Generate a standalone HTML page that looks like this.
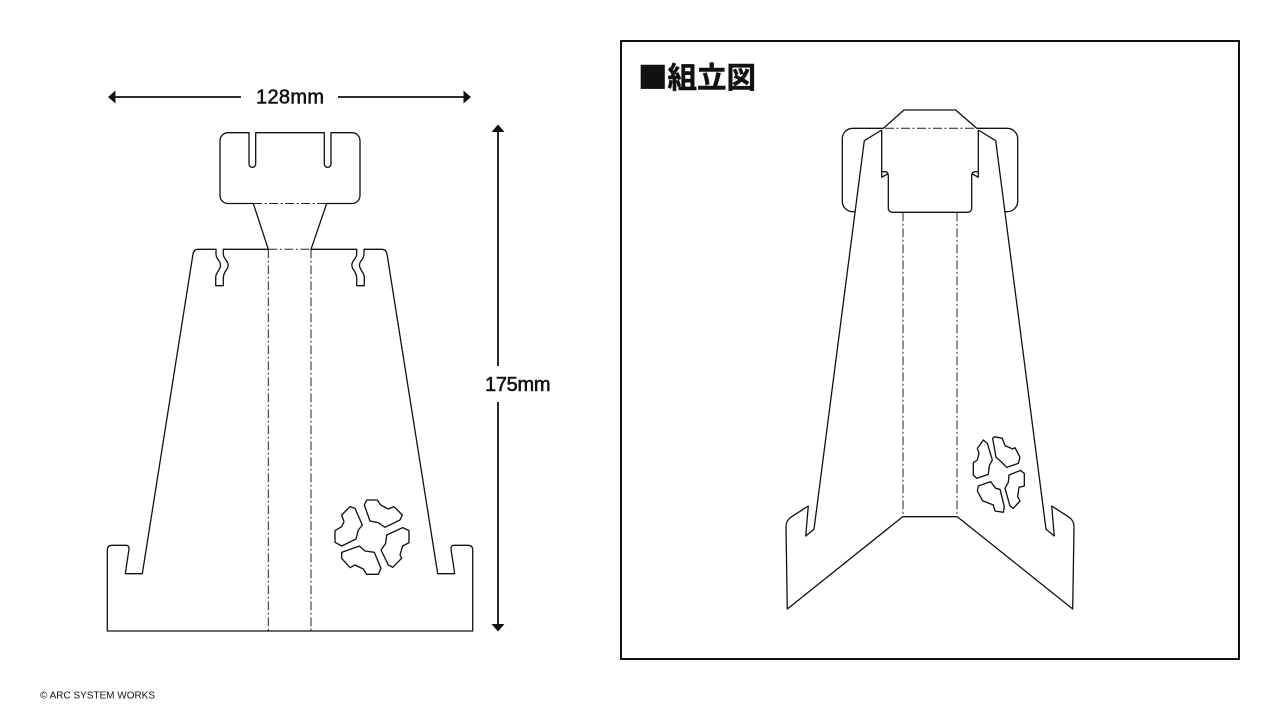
<!DOCTYPE html>
<html><head><meta charset="utf-8"><style>
html,body{margin:0;padding:0;background:#fff;width:1280px;height:720px;overflow:hidden}
svg{display:block}
text{font-family:"Liberation Sans","Noto Sans CJK JP",sans-serif;fill:#111}
.l{fill:none;stroke:#111;stroke-width:1.3;stroke-linejoin:round}
.f{fill:none;stroke:#222;stroke-width:1;stroke-dasharray:9 2.5 2 2.5}
</style></head><body>
<svg width="1280" height="720" viewBox="0 0 1280 720">
<!-- dimension arrows -->
<path d="M112 97H241M338 97H466" stroke="#111" stroke-width="1.8" fill="none"/>
<path d="M108 97L115.500 90.500V103.500ZM471 97L463.500 90.500V103.500Z" fill="#111"/>
<text x="256" y="103.300" font-size="20" textLength="68" lengthAdjust="spacing" stroke="#111" stroke-width=".55">128mm</text>
<path d="M498 129V366M498 402V627" stroke="#111" stroke-width="1.800" fill="none"/>
<path d="M498 124.500L491.500 132H504.500ZM498 631.500L491.500 624H504.500Z" fill="#111"/>
<text x="485" y="391" font-size="20" textLength="65.500" lengthAdjust="spacing" stroke="#111" stroke-width=".55">175mm</text>
<text x="40" y="698.500" font-size="10" textLength="115" lengthAdjust="spacing">© ARC SYSTEM WORKS</text>

<!-- left flat part -->
<path class="l" d="M253.300 203.500H228a8 8 0 0 1-8-8V140.700a8 8 0 0 1 8-8h21V164a3.300 3.300 0 0 0 6.700 0V132.700H324.300V164a3.300 3.300 0 0 0 6.700 0V132.700H352a8 8 0 0 1 8 8V195.500a8 8 0 0 1-8 8H326.700L311 249.300H356.700V254Q356.700 256 355 258.500L352.700 262Q351 265 352.700 268.500L355 272Q356.700 275 356.700 278V285.700H364.300V277Q364.300 275 362.700 272.500L360.300 268.500Q358.700 265 360.300 262L362.700 258.500Q364 256 364 254V249.300H382C385 249.300 386.500 251 387 254L437.700 573.700H454.700L451 549C450.800 546.500 452 545.300 454 545.300H468C471 545.300 472.700 547 472.700 550V631H107.300V550C107.300 547 109 545.300 112 545.300H126C128 545.300 129.200 546.500 129 549L125.300 573.700H142.300L193 254C193.500 251 195 249.300 198 249.300H216V254Q216 256 217.300 258.500L219.700 262Q221.300 265 219.700 268.500L217.300 272.500Q215.700 275 215.700 277V285.700H223.300V278Q223.300 275 225 272L227.300 268.500Q229 265 227.300 262L225 258.500Q223.300 256 223.300 254V249.300H268.300L253.300 203.500Z"/>
<path class="f" d="M253.300 203.500H326.700M268.300 249.300H311M268.300 249.300V631M311 249.300V631"/>
<g class="l" transform="translate(320 490) scale(.3333)" style="stroke-width:4">
<path d="M133 45L140 30H172L182 45L205 57L222 50L247 75L240 90L195 112L175 98L150 93Z"/>
<path d="M65 75L90 50L105 55L127 105L115 120L108 147L65 168L45 157V122L65 110L72 95Z"/>
<path d="M200 135L248 113L267 122V158L248 168L240 195L245 205L218 232L205 225L183 180L197 160Z"/>
<path d="M65 187L118 168L135 183L163 187L183 235L175 253H140L130 237L105 225L90 233L65 205Z"/>
</g>

<!-- assembled frame -->
<rect x="621" y="41" width="618" height="618" fill="none" stroke="#111" stroke-width="2"/>
<text x="638" y="88" font-size="29.500" font-weight="700" stroke="#111" stroke-width=".5" style="font-family:'Noto Sans CJK JP',sans-serif">■組立図</text>

<!-- centre panel -->
<path class="l" d="M881.700 130V177.300L887.500 174M881.700 171.700H885Q888.300 171.700 888.300 176V208a4 4 0 0 0 4 4.300H967.700a4 4 0 0 0 4-4.300V176Q971.700 171.700 975 171.700H978.300M978.300 130V177.300L972.500 174"/>
<!-- top flap and back head -->
<path class="l" d="M854.500 211.700H853A10.500 10.500 0 0 1 842.300 201.200V138.800A10.500 10.500 0 0 1 853 128.300H883.300L904 110H955.700L976.700 128.300H1007A10.500 10.500 0 0 1 1017.700 138.800V201.200A10.500 10.500 0 0 1 1007 211.700H1005.500"/>
<!-- sides -->
<path class="l" d="M881.700 130L864.300 140.700L814 529.300L805.700 536L808.300 506L791.700 516.700C788 519 786 522 786 526.700L787.300 609L902.700 516.700H957.300L1072.700 609L1074 526.700C1074 522 1072 519 1068.300 516.700L1051.700 506L1054.300 536L1046 529.300L995.700 140.700L978.300 130"/>
<path class="f" d="M885 128.300H975M903 212.300V517M957 212.300V517"/>
<g class="l" transform="translate(960 425) scale(.3333)" style="stroke-width:4">
<path d="M52 70L70 45L82 55L97 105L88 122L85 148L50 160L40 150V113L52 105L57 85Z"/>
<path d="M98 40L103 35L127 40L135 62L158 72L165 68L180 97L175 115L140 127L118 105L108 97Z"/>
<path d="M147 150L182 136L193 146V183L177 187L173 215L180 228L160 250L150 243L135 190L145 172Z"/>
<path d="M55 183L92 170L107 190L120 193L133 245L130 262L105 258L100 240L75 230L68 228L52 198Z"/>
</g>
</svg>
</body></html>
